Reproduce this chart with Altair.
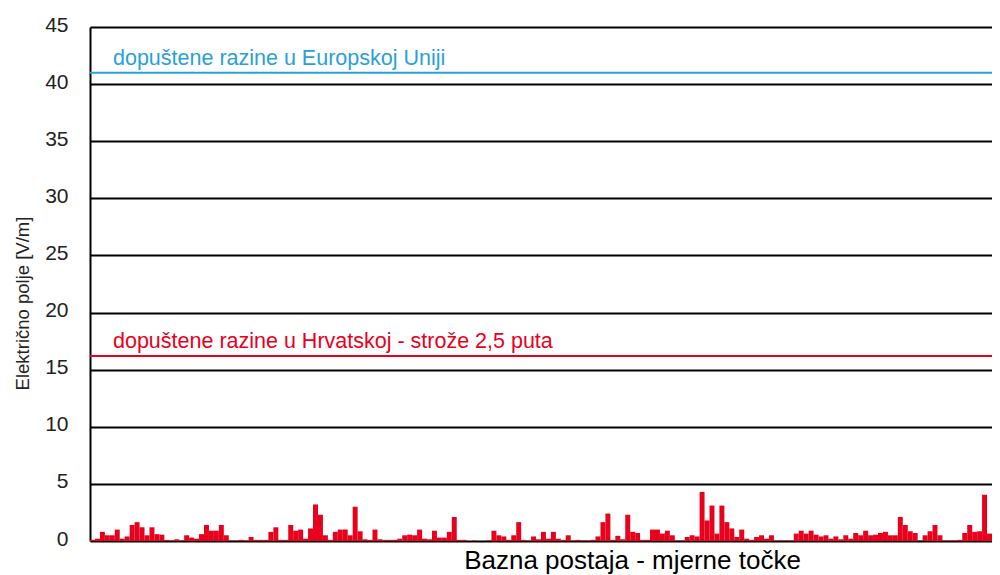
import altair as alt
import pandas as pd

# Measured electric field per measuring point [V/m]
field_values = [
    0.1, 0.2, 0.8, 0.5, 0.5, 1.0, 0.2, 0.4, 1.4, 1.65,
    1.2, 0.5, 1.2, 0.6, 0.55, 0.1, 0.05, 0.15, 0.05, 0.5,
    0.3, 0.2, 0.6, 1.4, 0.9, 0.9, 1.4, 0.5, 0.05, 0.05,
    0.1, 0.05, 0.35, 0.1, 0.1, 0.1, 0.8, 1.2, 0.1, 0.1,
    1.4, 0.9, 1.0, 0.2, 1.1, 3.2, 2.3, 0.5, 0.1, 0.8,
    1.0, 1.0, 0.5, 3.0, 0.85, 0.15, 0.1, 1.0, 0.15, 0.1,
    0.1, 0.1, 0.2, 0.5, 0.55, 0.5, 1.0, 0.2, 0.15, 0.9,
    0.3, 0.3, 0.8, 2.1, 0.1, 0.1, 0.0, 0.05, 0.0, 0.0,
    0.05, 0.9, 0.5, 0.4, 0.1, 0.5, 1.65, 0.1, 0.05, 0.4,
    0.15, 0.8, 0.2, 0.8, 0.2, 0.1, 0.5, 0.05, 0.1, 0.05,
    0.05, 0.1, 0.4, 1.65, 2.4, 0.1, 0.45, 0.15, 2.3, 0.8,
    0.7, 0.1, 0.1, 1.0, 1.0, 0.65, 0.9, 0.5, 0.05, 0.05,
    0.35, 0.5, 0.4, 4.3, 1.8, 3.1, 0.65, 3.1, 1.65, 1.1,
    0.35, 1.0, 0.2, 0.1, 0.35, 0.5, 0.2, 0.5, 0.05, 0.05,
    0.05, 0.05, 0.65, 0.9, 0.65, 0.9, 0.55, 0.4, 0.5, 0.2,
    0.4, 0.15, 0.5, 0.2, 0.7, 0.5, 0.9, 0.5, 0.55, 0.7,
    0.8, 0.5, 0.5, 2.1, 1.4, 0.85, 0.7, 0.05, 0.5, 0.85,
    1.4, 0.5, 0.05, 0.05, 0.05, 0.1, 0.7, 1.4, 0.8, 0.85,
    4.05, 0.65,
]
point_ids = list(range(1, len(field_values) + 1))

limit_labels = ["dopuštene razine u Europskoj Uniji",
                "dopuštene razine u Hrvatskoj - strože 2,5 puta"]
limit_values = [41, 16.2]
limit_colors = ["#2a9fdc", "#e8001c"]

y_ticks = [0, 5, 10, 15, 20, 25, 30, 35, 40, 45]

FONT = "Liberation Sans"

bars_df = pd.DataFrame({"point": point_ids, "field": field_values})
limits_df = pd.DataFrame({"label": limit_labels, "value": limit_values,
                          "color": limit_colors})

y_scale = alt.Scale(domain=[0, 45], nice=False, zero=True)

bars = alt.Chart(bars_df).mark_bar(color="#e8001c", strokeWidth=0).encode(
    x=alt.X("point:O",
            scale=alt.Scale(paddingInner=0, paddingOuter=0),
            axis=alt.Axis(title="Bazna postaja - mjerne točke",
                          labels=False, ticks=False, domain=False, grid=False,
                          titleFont=FONT, titleFontSize=26,
                          titleFontWeight="normal", titleColor="#000000",
                          titleX=542, titleY=27, titleAlign="center",
                          titleBaseline="alphabetic")),
    y=alt.Y("field:Q", scale=y_scale,
            axis=alt.Axis(title="Električno polje [V/m]", values=y_ticks,
                          grid=True, gridColor="#000000", gridWidth=2,
                          gridOpacity=1, ticks=False,
                          domain=True, domainColor="#000000", domainWidth=2,
                          labelFont=FONT, labelFontSize=21,
                          labelColor="#222222", labelPadding=22,
                          labelOffset=-2,
                          titleFont=FONT, titleFontSize=18.5,
                          titleFontWeight="normal", titleColor="#222222",
                          titleX=-68, titleY=276, titleAngle=270,
                          titleAlign="center", titleBaseline="middle")),
)

rules = alt.Chart(limits_df).mark_rule(strokeWidth=2).encode(
    y=alt.Y("value:Q", scale=y_scale),
    color=alt.Color("color:N", scale=None),
)

texts = alt.Chart(limits_df).mark_text(
    align="left", baseline="alphabetic", font=FONT, fontSize=21.5, dy=-8
).encode(
    x=alt.value(23),
    y=alt.Y("value:Q", scale=y_scale),
    text="label:N",
    color=alt.Color("color:N", scale=None),
)

chart = alt.layer(bars, rules, texts).properties(
    width=902, height=514,
    padding={"left": 82, "top": 19, "right": 0, "bottom": 36},
    autosize=alt.AutoSizeParams(type="none"),
    background="#ffffff",
).configure_view(stroke="transparent")

chart.save("out.html", embed_options={"renderer": "svg", "actions": False})
